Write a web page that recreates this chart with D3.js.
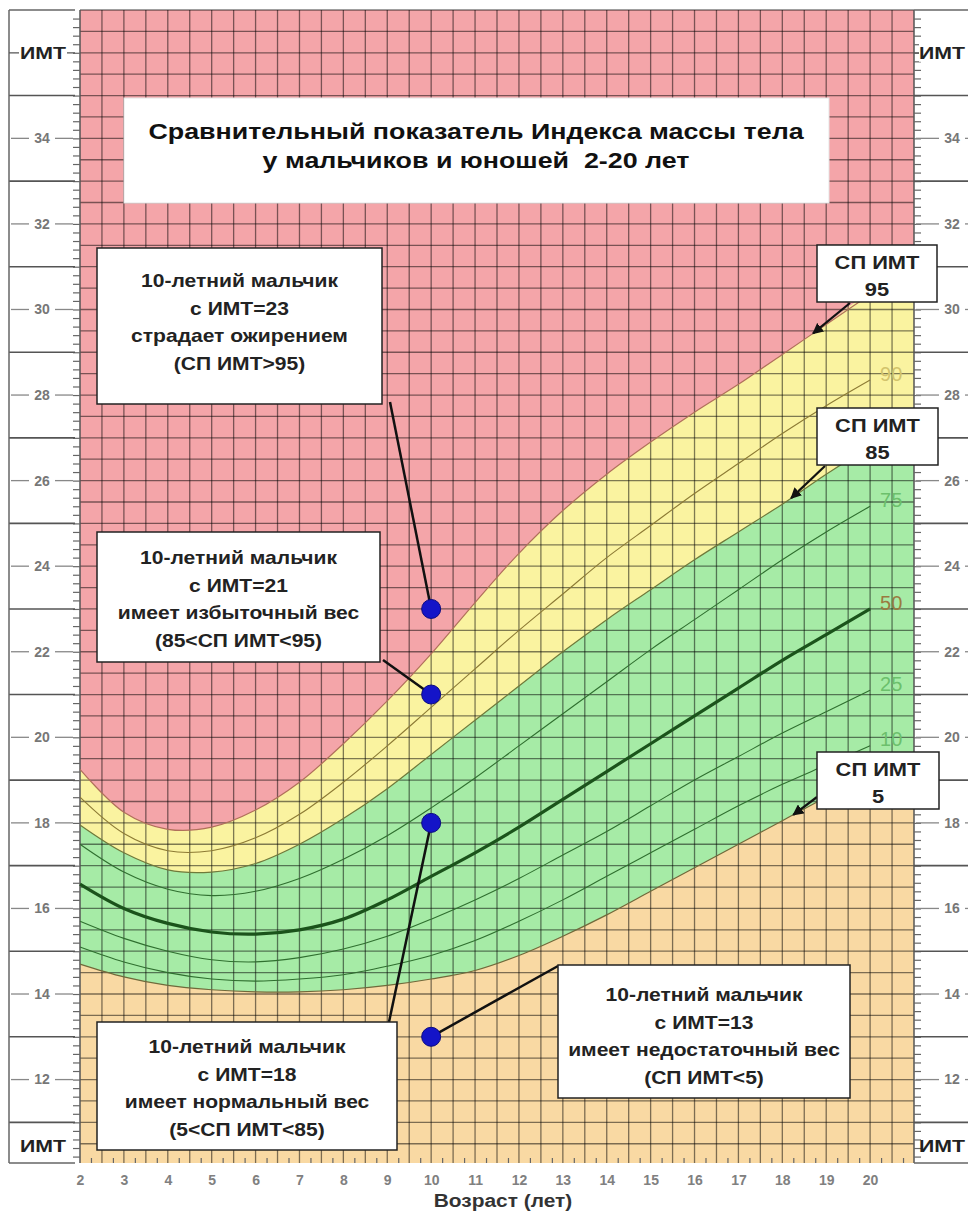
<!DOCTYPE html>
<html>
<head>
<meta charset="utf-8">
<script src="https://cdn.jsdelivr.net/npm/d3@7"></script>
<style>
body { margin: 0; background: #fff; }
svg { display: block; font-family: "Liberation Sans", Arial, sans-serif; }
text { white-space: pre; }
</style>
</head>
<body>
<svg id="chart" width="968" height="1215"></svg>
<script>
// percentile curves, boys 2-20
var ages = [2, 3, 4, 5, 6, 7, 8, 9, 10, 11, 12, 13, 14, 15, 16, 17, 18, 19, 20]
var p5  = [14.7, 14.4, 14.2, 14.1, 14.05, 14.05, 14.1, 14.2, 14.35, 14.55, 14.9, 15.35, 15.85, 16.4, 16.95, 17.5, 18.05, 18.6, 19.1]
var p10 = [15.1, 14.75, 14.5, 14.35, 14.3, 14.35, 14.45, 14.65, 14.9, 15.25, 15.7, 16.2, 16.75, 17.3, 17.85, 18.4, 18.9, 19.35, 19.8]
var p25 = [15.7, 15.3, 15.0, 14.8, 14.75, 14.85, 15.05, 15.35, 15.75, 16.2, 16.7, 17.25, 17.8, 18.4, 19.0, 19.55, 20.1, 20.6, 21.1]
var p50 = [16.57, 16.0, 15.65, 15.45, 15.4, 15.5, 15.75, 16.2, 16.75, 17.3, 17.9, 18.55, 19.2, 19.85, 20.5, 21.15, 21.8, 22.4, 23.0]
var p75 = [17.5, 16.85, 16.45, 16.3, 16.4, 16.7, 17.15, 17.7, 18.35, 19.05, 19.8, 20.55, 21.3, 22.05, 22.75, 23.45, 24.15, 24.8, 25.4]
var p85 = [17.95, 17.3, 16.9, 16.85, 17.05, 17.5, 18.1, 18.8, 19.6, 20.4, 21.2, 22.0, 22.75, 23.45, 24.15, 24.8, 25.45, 26.15, 26.8]
var p90 = [18.6, 17.75, 17.35, 17.35, 17.65, 18.2, 18.95, 19.8, 20.7, 21.6, 22.5, 23.35, 24.2, 24.95, 25.7, 26.4, 27.1, 27.75, 28.35]
var p95 = [19.25, 18.25, 17.85, 17.9, 18.3, 18.95, 19.85, 20.85, 21.95, 23.15, 24.3, 25.3, 26.15, 26.9, 27.6, 28.25, 28.95, 29.65, 30.35]

var labelNames = ["90", "75", "50", "25", "10"]
var yTicks = [12, 14, 16, 18, 20, 22, 24, 26, 28, 30, 32, 34]
var yLines = [11, 13, 15, 17, 19, 21, 23, 25, 27, 29, 31, 33, 35]
var xTicks = [2, 3, 4, 5, 6, 7, 8, 9, 10, 11, 12, 13, 14, 15, 16, 17, 18, 19, 20]

var pointAges = [10, 10, 10, 10]
var pointBmi = [23, 21, 18, 13]

var title = ["Сравнительный показатель Индекса массы тела", "у мальчиков и юношей  2-20 лет"]
var notes = [
    ["10-летний мальчик", "с ИМТ=23", "страдает ожирением", "(СП ИМТ>95)"],
    ["10-летний мальчик", "с ИМТ=21", "имеет избыточный вес", "(85<СП ИМТ<95)"],
    ["10-летний мальчик", "с ИМТ=18", "имеет нормальный вес", "(5<СП ИМТ<85)"],
    ["10-летний мальчик", "с ИМТ=13", "имеет недостаточный вес", "(СП ИМТ<5)"]
]
var tags = [["СП ИМТ", "95"], ["СП ИМТ", "85"], ["СП ИМТ", "5"]]

var svg = d3.select('#chart')
var x = d3.scaleLinear().domain([2, 21]).range([80, 914])
var y = d3.scaleLinear().domain([10.05, 37]).range([1163, 10])
var smooth = d3.curveCatmullRom.alpha(0.5)

function ext(arr) { return arr.concat([arr[arr.length - 1]]) }
var agesExt = ages.concat([21])
function interp(arr, a) {
    var i = Math.min(Math.floor(a) - 2, ages.length - 2)
    var t = a - ages[i]
    return arr[i] + (arr[i + 1] - arr[i]) * t
}

// text drawn a bit wider than the font, like the original raster
function label(parent, cx, cy, str, size, sx, color, anchor) {
    return parent.append('text')
        .attr('transform', 'translate(' + cx + ',' + cy + ') scale(' + sx + ',1)')
        .attr('dy', '0.35em').attr('text-anchor', anchor || 'middle')
        .attr('font-size', size).attr('font-weight', 'bold').attr('fill', color).text(str)
}

// background zones
svg.append('rect').attr('x', x(2)).attr('y', y(37)).attr('width', x(21) - x(2)).attr('height', y(10.05) - y(37)).attr('fill', '#f4a5a9')

function band(lo, hi, color) {
    var area = d3.area()
        .x((d, i) => x(agesExt[i]))
        .y0((d, i) => y(lo ? ext(lo)[i] : 10.05))
        .y1((d, i) => y(ext(hi)[i]))
        .curve(smooth)
    svg.append('path').attr('d', area(agesExt)).attr('fill', color)
}
band(p85, p95, '#faf3a0')
band(p5, p85, '#a6eba6')
band(null, p5, '#f9d9a3')

// grid
var grid = svg.append('g').attr('stroke', '#000').attr('stroke-opacity', 0.5).attr('stroke-width', 1.3)
d3.range(2.5, 21, 0.5).forEach(a => {
    grid.append('line').attr('x1', x(a)).attr('x2', x(a)).attr('y1', y(37)).attr('y2', y(10.05))
})
d3.range(10.5, 37.1, 0.5).forEach(b => {
    grid.append('line').attr('x1', x(2)).attr('x2', x(21)).attr('y1', y(b)).attr('y2', y(b))
})
svg.append('line').attr('x1', x(2)).attr('x2', x(2)).attr('y1', y(37)).attr('y2', y(10.05)).attr('stroke', '#555').attr('stroke-width', 1.5)
svg.append('line').attr('x1', x(21)).attr('x2', x(21)).attr('y1', y(37)).attr('y2', y(10.05)).attr('stroke', '#555').attr('stroke-width', 1.5)

// percentile curves
var line = d3.line().x((d, i) => x(ages[i])).y(d => y(d)).curve(smooth)
var curves = [
    [p95, '#b0705a', 1.2], [p90, '#8c7a34', 1.1], [p85, '#6f7a3a', 1.2], [p75, '#2f6f2f', 1.1],
    [p50, '#1b531b', 3.2], [p25, '#2f6f2f', 1.1], [p10, '#2f6f2f', 1.1], [p5, '#6f6a3a', 1.2]
]
curves.forEach(c => {
    svg.append('path').attr('d', line(c[0])).attr('fill', 'none').attr('stroke', c[1]).attr('stroke-width', c[2])
})

var labelSeries = [p90, p75, p50, p25, p10]
var labelColors = ['#d2c36c', '#6cc06c', '#9a7a40', '#6cc06c', '#6cc06c']
labelNames.forEach((n, i) => {
    var s = labelSeries[i]
    svg.append('text').attr('x', x(20) + 10).attr('y', y(s[s.length - 1] + 0.15)).attr('dy', '0.35em')
        .attr('fill', labelColors[i]).attr('font-size', 20).text(n)
})

// fine ticks at plot edges
svg.append('g').attr('transform', 'translate(73,0)')
    .call(d3.axisRight(y).tickValues(d3.range(10.2, 37, 0.2)).tickSize(7).tickFormat(''))
svg.append('g').attr('transform', 'translate(914,0)')
    .call(d3.axisRight(y).tickValues(d3.range(10.2, 37, 0.2)).tickSize(7).tickFormat(''))
svg.append('g').attr('transform', 'translate(0,' + y(10.05) + ')')
    .call(d3.axisTop(x).tickValues(d3.range(2.25, 21, 0.5)).tickSize(5).tickFormat(''))
svg.selectAll('.domain').remove()
svg.selectAll('.tick line').attr('stroke', '#666').attr('stroke-width', 1.2)

// side margins
function margin(x0, x1) {
    var g = svg.append('g')
    var cx = (x0 + x1) / 2
    g.append('line').attr('x1', x0).attr('x2', x1).attr('y1', y(37)).attr('y2', y(37)).attr('stroke', '#666').attr('stroke-width', 1.5)
    g.append('line').attr('x1', x0).attr('x2', x1).attr('y1', y(10.05)).attr('y2', y(10.05)).attr('stroke', '#666').attr('stroke-width', 1.5)
    yLines.forEach(v => {
        g.append('line').attr('x1', x0).attr('x2', x1).attr('y1', y(v)).attr('y2', y(v)).attr('stroke', '#555').attr('stroke-width', 1.6)
    })
    yTicks.forEach(v => {
        g.append('line').attr('x1', x0 + 2).attr('x2', cx - 13).attr('y1', y(v)).attr('y2', y(v)).attr('stroke', '#888').attr('stroke-width', 1.3)
        g.append('line').attr('x1', cx + 13).attr('x2', x1 - 2).attr('y1', y(v)).attr('y2', y(v)).attr('stroke', '#888').attr('stroke-width', 1.3)
        label(g, cx, y(v), v, 14, 1, '#777')
    })
    return g
}
var lm = margin(9, 75)
lm.append('line').attr('x1', 9).attr('x2', 9).attr('y1', y(37)).attr('y2', y(10.05)).attr('stroke', '#666').attr('stroke-width', 1.5)
lm.append('line').attr('x1', 9).attr('x2', 75).attr('y1', y(36)).attr('y2', y(36)).attr('stroke', '#555').attr('stroke-width', 1.3)
lm.append('rect').attr('x', 19).attr('y', y(36) - 9).attr('width', 48).attr('height', 18).attr('fill', '#fff')
label(lm, 43, y(36), 'ИМТ', 17, 1.25, '#222')
label(lm, 43, y(10.45), 'ИМТ', 17, 1.25, '#222')
var rm = margin(914, 990)
rm.append('line').attr('x1', 914).attr('x2', 968).attr('y1', y(36)).attr('y2', y(36)).attr('stroke', '#555').attr('stroke-width', 1.3)
rm.append('rect').attr('x', 919).attr('y', y(36) - 9).attr('width', 49).attr('height', 18).attr('fill', '#fff')
label(rm, 919, y(36), 'ИМТ', 17, 1.25, '#222', 'start')
label(rm, 919, y(10.45), 'ИМТ', 17, 1.25, '#222', 'start')

// x axis labels
var xAxis = svg.append('g').attr('transform', 'translate(0,' + (y(10.05) + 9) + ')')
    .call(d3.axisBottom(x).tickValues(xTicks).tickSize(0).tickFormat(d3.format('d')))
xAxis.select('.domain').remove()
xAxis.selectAll('text').attr('font-size', 14).attr('font-weight', 'bold').attr('fill', '#808080').attr('font-family', '"Liberation Sans", Arial, sans-serif')
label(svg, 503, 1200, 'Возраст (лет)', 19, 1.1, '#333')

// title box
svg.append('rect').attr('x', 124).attr('y', 98).attr('width', 705).attr('height', 105).attr('fill', '#fff').attr('stroke', '#e4e4e4')
title.forEach((t, i) => {
    label(svg, 476, 131 + i * 29, t, 22, 1.22, '#111')
})

// arrow marker
svg.append('defs').append('marker').attr('id', 'arr').attr('viewBox', '0 0 10 10').attr('refX', 9).attr('refY', 5)
    .attr('markerWidth', 5).attr('markerHeight', 5).attr('orient', 'auto')
    .append('path').attr('d', 'M0,0L10,5L0,10z').attr('fill', '#111')

// connectors from notes to points
var noteStarts = [[390, 402], [383, 660], [389, 1022], [558, 966]]
pointAges.forEach((a, i) => {
    svg.append('line').attr('x1', noteStarts[i][0]).attr('y1', noteStarts[i][1]).attr('x2', x(a)).attr('y2', y(pointBmi[i]))
        .attr('stroke', '#111').attr('stroke-width', 2.5)
})

// note boxes
var noteBoxes = [[97, 248, 285, 156, 281], [97, 532, 283, 130, 558], [97, 1022, 300, 128, 1047], [558, 965, 292, 133, 995]]
notes.forEach((lines, i) => {
    var b = noteBoxes[i]
    svg.append('rect').attr('x', b[0]).attr('y', b[1]).attr('width', b[2]).attr('height', b[3]).attr('fill', '#fff').attr('stroke', '#222').attr('stroke-width', 1.5)
    lines.forEach((t, j) => {
        label(svg, b[0] + b[2] / 2, b[4] + j * 27.5, t, 18, 1.17, '#222')
    })
})

// points
pointAges.forEach((a, i) => {
    svg.append('circle').attr('cx', x(a)).attr('cy', y(pointBmi[i])).attr('r', 9.5).attr('fill', '#1414c8').attr('stroke', '#0a0a80').attr('stroke-width', 1)
})

// percentile tags with arrows
var tagSeries = [p95, p85, p5]
var tagAges = [18.7, 18.2, 18.25]
var tagBoxes = [[817, 245, 120, 57], [817, 408, 121, 57], [817, 752, 122, 57]]
var tagFrom = [[850, 303], [825, 466], [817, 797]]
tags.forEach((lines, i) => {
    var b = tagBoxes[i]
    svg.append('line').attr('x1', tagFrom[i][0]).attr('y1', tagFrom[i][1])
        .attr('x2', x(tagAges[i])).attr('y2', y(interp(tagSeries[i], tagAges[i])))
        .attr('stroke', '#111').attr('stroke-width', 2.2).attr('marker-end', 'url(#arr)')
    svg.append('rect').attr('x', b[0]).attr('y', b[1]).attr('width', b[2]).attr('height', b[3]).attr('fill', '#fff').attr('stroke', '#222').attr('stroke-width', 1.5)
    lines.forEach((t, j) => {
        label(svg, b[0] + b[2] / 2, b[1] + 17 + j * 27, t, 19, 1.15, '#222')
    })
})
</script>
</body>
</html>
